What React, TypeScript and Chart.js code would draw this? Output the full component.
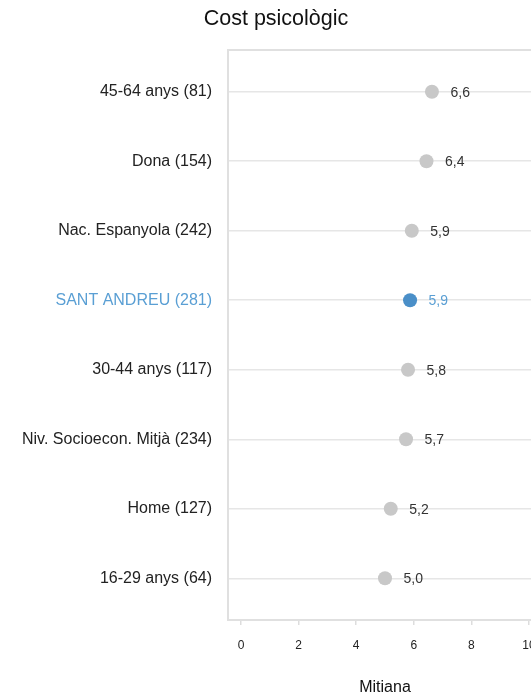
import React, { useEffect, useRef } from "react";
import { Chart, registerables } from "chart.js";

Chart.register(...registerables);

const categories = [
  "45-64 anys (81)",
  "Dona (154)",
  "Nac. Espanyola (242)",
  "SANT ANDREU (281)",
  "30-44 anys (117)",
  "Niv. Socioecon. Mitjà (234)",
  "Home (127)",
  "16-29 anys (64)",
];
const means = [6.63, 6.44, 5.93, 5.87, 5.8, 5.73, 5.2, 5.0];
const highlightIndex = 3;
const xTicks = [0, 2, 4, 6, 8, 10];
const title = "Cost psicològic";
const xTitle = "Mitjana";

const GRAY = "#c8c8c8";
const BLUE = "#4a8fc8";
const BLUE_TEXT = "#5a9fd4";
const FONT = "'Liberation Sans', Arial, sans-serif";

export default function App() {
  const ref = useRef<HTMLCanvasElement | null>(null);
  useEffect(() => {
    if (!ref.current) return;
    const titlePlugin = {
      id: "ownTitle",
      afterDraw(chart: any) {
        const { ctx, width } = chart;
        ctx.save();
        ctx.font = `21.5px ${FONT}`;
        ctx.fillStyle = "#111111";
        ctx.textAlign = "center";
        ctx.textBaseline = "middle";
        ctx.fillText(title, width / 2, 11);
        ctx.restore();
      },
    };
    const borderPlugin = {
      id: "frame",
      beforeDatasetsDraw(chart: any) {
        const { ctx, chartArea } = chart;
        ctx.save();
        ctx.strokeStyle = "#e0e0e0";
        ctx.lineWidth = 2;
        ctx.strokeRect(chartArea.left, chartArea.top, chartArea.right - chartArea.left, chartArea.bottom - chartArea.top);
        ctx.restore();
      },
    };
    const labelPlugin = {
      id: "pointLabels",
      afterDatasetsDraw(chart: any) {
        const { ctx } = chart;
        const meta = chart.getDatasetMeta(0);
        ctx.save();
        ctx.font = `14px ${FONT}`;
        ctx.textAlign = "left";
        ctx.textBaseline = "middle";
        meta.data.forEach((el: any, i: number) => {
          ctx.fillStyle = i === highlightIndex ? BLUE_TEXT : "#333333";
          ctx.fillText(means[i].toFixed(1).replace(".", ","), el.x + 18.5, el.y + 1);
        });
        ctx.restore();
      },
    };
    const chart = new Chart(ref.current, {
      type: "scatter",
      data: {
        datasets: [
          {
            data: means.map((v, i) => ({ x: v, y: i })),
            backgroundColor: means.map((_, i) => (i === highlightIndex ? BLUE : GRAY)),
            borderWidth: 0,
            pointRadius: 7,
            pointHoverRadius: 7,
          },
        ],
      },
      options: {
        responsive: false,
        animation: false,
        layout: { autoPadding: false, padding: { left: 0, right: 2, top: 42, bottom: 0 } },
        plugins: {
          legend: { display: false },
          tooltip: { enabled: false },
          title: { display: false },
        },
        scales: {
          x: {
            type: "linear",
            min: -0.45,
            max: 10.45,
            afterBuildTicks(scale: any) {
              scale.ticks = xTicks.map((v) => ({ value: v }));
            },
            afterFit(scale: any) {
              scale.height = 77;
              scale.paddingLeft = 0;
              scale.paddingRight = 0;
            },
            grid: {
              drawOnChartArea: false,
              drawTicks: true,
              tickLength: 5,
              color: "#dddddd",
              lineWidth: 1.5,
            },
            border: { display: false },
            ticks: {
              color: "#222222",
              font: { family: FONT, size: 12, lineHeight: 3 },
              padding: 3,
              maxRotation: 0,
              callback: (v: any) => String(v),
            },
            title: {
              display: true,
              text: xTitle,
              color: "#111111",
              font: { family: FONT, size: 16 },
              padding: 0,
            },
          },
          y: {
            type: "linear",
            reverse: true,
            min: -0.6,
            max: 7.6,
            afterBuildTicks(scale: any) {
              scale.ticks = categories.map((_, i) => ({ value: i }));
            },
            afterFit(scale: any) {
              scale.width = 220;
              scale.paddingTop = 0;
              scale.paddingBottom = 0;
            },
            grid: {
              drawTicks: false,
              color: "#e6e6e6",
              lineWidth: 1.5,
            },
            border: { display: false },
            ticks: {
              padding: 16,
              font: { family: FONT, size: 16 },
              color: (c: any) => (c.tick && c.tick.value === highlightIndex ? BLUE_TEXT : "#222222"),
              callback: (v: any) => categories[v as number] ?? "",
            },
          },
        },
      },
      plugins: [borderPlugin, labelPlugin, titlePlugin],
    } as any);
    return () => chart.destroy();
  }, []);
  return (
    <div style={{ position: "fixed", left: 8, top: 8, width: 523, height: 684, overflow: "hidden" }}>
      <canvas ref={ref} width={536} height={689} style={{ display: "block" }} />
    </div>
  );
}
